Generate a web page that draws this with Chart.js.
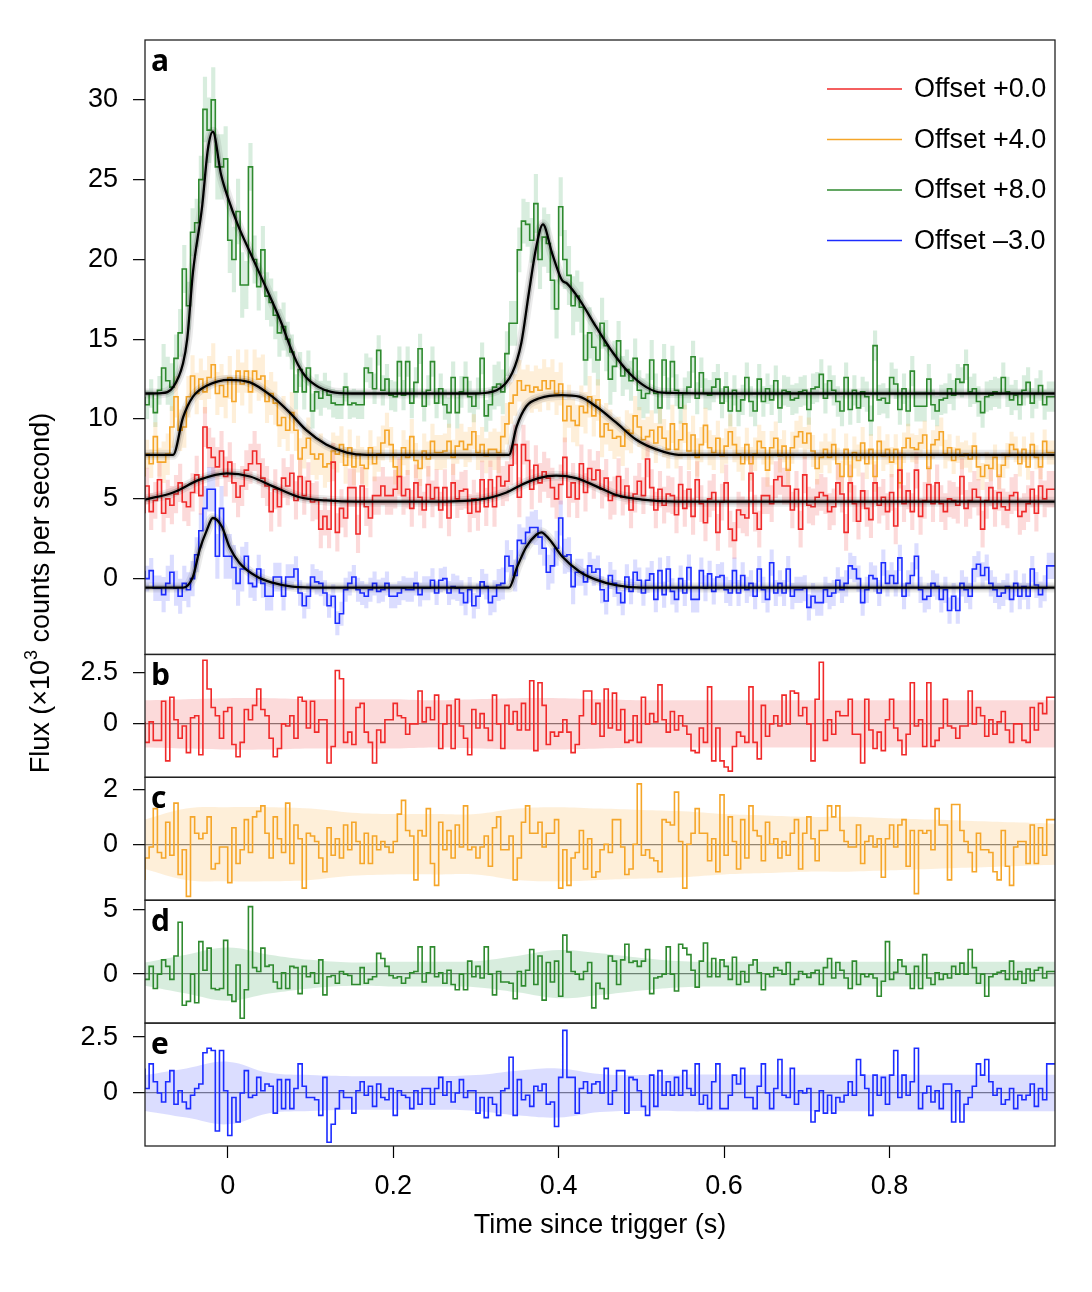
<!DOCTYPE html>
<html>
<head>
<meta charset="utf-8">
<script src="https://cdn.jsdelivr.net/npm/chart.js@4.4.1/dist/chart.umd.min.js"></script>
<style>
html,body{margin:0;padding:0;background:#fff;}
canvas{display:block;}
</style>
</head>
<body>
<canvas id="c" width="1092" height="1292" style="width:1092px;height:1292px"></canvas>
<script>
// ---------------- DATA ----------------
const BIN_START = -0.1;   // s, left edge of first bin
const BIN_WIDTH = 0.005;  // s
const X_TICKS = [0, 0.2, 0.4, 0.6, 0.8];
const TICKS_A = [0, 5, 10, 15, 20, 25, 30];
const TICKS_B = [0, 2.5];
const TICKS_C = [0, 2];
const TICKS_D = [0, 5];
const TICKS_E = [0, 2.5];
const LEGEND_LABELS = ['Offset +0.0', 'Offset +4.0', 'Offset +8.0', 'Offset \u20133.0'];
const PANEL_LETTERS = ['a', 'b', 'c', 'd', 'e'];
const X_TITLE = 'Time since trigger (s)';
const Y_TITLE = ['Flux (\u00d710', '3', ' counts per second)'];

// Panel a: binned flux (with offsets applied)
const RED_FLUX = [
4.1,5.8,4.2,4.9,6.2,4.1,5.0,4.6,5.3,6.0,
4.8,4.5,5.4,6.5,5.2,9.5,8.2,7.6,7.0,8.0,
6.4,7.3,6.0,5.1,5.8,6.8,7.2,8.0,7.2,6.3,
5.8,4.2,5.6,4.5,6.3,5.8,6.6,4.9,6.4,5.2,
6.1,4.8,4.9,3.1,3.9,3.1,7.3,2.9,4.4,3.8,
5.7,5.7,2.8,5.8,4.5,3.8,5.2,5.2,5.8,5.2,
5.2,5.6,6.4,5.2,5.6,4.4,6.0,5.1,4.3,5.9,
5.0,5.7,4.3,5.7,3.8,6.0,5.0,5.5,5.6,4.1,
5.0,4.2,6.2,4.5,6.2,4.5,6.4,5.8,6.1,7.1,
8.4,5.1,8.4,7.4,5.6,7.1,6.0,6.7,6.3,5.7,
5.0,5.9,7.6,5.1,6.0,5.0,7.2,5.4,6.9,6.2,
6.8,5.6,6.3,4.9,5.2,6.4,5.1,5.8,4.3,5.3,
6.1,5.2,7.5,5.7,4.3,5.6,4.6,5.3,5.2,4.0,
5.9,4.4,5.6,3.9,6.2,4.7,3.5,5.0,5.4,2.9,
4.8,6.0,3.1,2.4,4.3,4.0,3.8,6.6,4.1,3.1,
5.2,5.2,4.7,6.2,6.4,5.8,5.8,4.3,5.6,3.1,
6.5,4.6,4.5,5.1,5.4,5.2,4.2,4.5,6.0,5.3,
2.9,6.0,4.7,3.6,5.5,4.4,3.7,6.0,4.6,5.1,
4.2,5.4,3.3,6.8,4.7,5.5,4.2,6.8,3.9,4.9,
5.9,4.7,6.0,4.7,4.2,5.0,4.9,4.6,6.4,4.4,
4.9,5.6,5.1,3.1,4.9,5.7,4.4,5.4,4.5,4.3,
5.2,5.4,3.9,4.2,4.7,5.6,4.1,5.8,5.0,5.6];

const ORANGE_FLUX = [
6.4,7.8,7.2,8.9,7.3,7.3,7.8,9.5,11.4,9.3,
9.5,11.4,12.7,11.6,12.5,11.7,12.6,13.4,11.6,12.1,
11.4,12.6,11.1,13.0,12.2,13.0,11.7,13.0,12.5,12.7,
11.1,11.6,11.0,9.6,10.1,9.3,10.4,9.3,7.5,8.2,
8.8,7.8,7.5,7.8,7.0,7.2,8.0,7.8,8.4,7.1,
8.2,7.0,7.8,7.1,6.9,8.2,7.2,7.8,8.5,9.3,
8.4,7.0,6.4,8.2,7.6,8.9,7.4,6.9,8.0,7.5,
8.6,7.9,7.9,8.0,8.6,7.6,8.3,8.6,8.1,8.4,
9.2,7.9,8.4,7.7,8.1,8.1,7.9,8.9,9.7,11.0,
11.5,12.4,11.8,12.1,11.7,12.0,11.8,12.4,11.9,12.4,
11.6,12.2,9.9,10.8,9.9,9.6,10.8,10.4,11.4,10.2,
11.2,8.9,9.7,9.3,8.8,8.9,8.3,9.3,9.1,10.2,
9.5,8.7,8.9,9.3,8.5,9.5,8.8,8.1,9.7,8.1,
8.7,9.7,8.0,9.0,7.6,8.4,9.6,8.2,7.9,8.8,
7.7,8.3,9.2,8.4,7.8,7.2,8.4,7.2,7.8,8.6,
8.2,6.8,8.2,8.8,7.7,8.3,6.8,8.2,8.9,9.2,
8.5,9.1,8.0,6.9,7.6,8.1,7.6,8.4,7.2,6.4,
8.1,6.4,7.9,7.4,8.5,7.2,8.1,6.4,8.6,7.7,
8.1,7.3,8.1,6.0,8.2,8.8,8.2,8.1,8.5,9.0,
6.9,8.4,8.7,9.2,7.8,8.2,7.4,8.1,7.7,7.8,
7.5,8.3,7.0,6.4,7.1,6.9,7.6,6.4,7.1,7.7,
8.4,8.1,7.2,8.1,7.0,8.4,7.6,7.0,8.6,7.9];

const GREEN_FLUX = [
11.4,10.9,11.6,10.4,11.8,13.2,12.4,12.0,13.8,15.4,
19.4,17.1,21.7,22.3,25.0,29.4,28.1,30.0,25.8,25.8,
26.3,21.2,20.0,23.0,18.4,18.4,25.8,20.0,18.3,20.6,
17.7,17.3,16.5,15.4,15.8,15.0,14.2,11.7,13.1,11.7,
13.2,10.5,11.7,11.3,11.8,11.5,11.0,10.9,10.9,12.0,
10.9,11.0,10.9,10.9,13.2,12.9,11.9,14.3,11.8,12.5,
11.5,11.4,13.6,11.5,13.6,11.0,12.3,14.4,10.8,11.8,
13.6,11.0,11.9,10.9,10.4,12.6,10.4,11.7,12.6,11.4,
10.8,11.6,13.8,10.2,10.9,12.0,12.2,11.7,14.1,16.0,
16.0,20.6,22.4,22.2,21.2,23.5,20.0,21.4,21.0,18.7,
16.9,23.3,20.0,19.0,17.1,17.7,17.0,13.7,15.4,14.5,
13.7,16.0,14.6,12.5,13.3,14.9,12.7,13.1,12.4,13.8,
11.8,11.3,11.6,13.7,11.6,10.7,13.7,11.6,13.6,11.8,
10.7,11.6,12.0,13.9,11.3,12.9,11.6,11.5,12.0,12.5,
11.0,12.0,10.5,11.8,10.5,11.2,12.6,11.1,10.5,12.5,
11.1,11.9,11.2,12.4,10.7,11.8,11.7,11.2,11.3,11.7,
11.8,10.6,11.9,12.0,12.8,11.3,12.4,11.8,11.1,10.5,
12.6,10.6,11.8,10.7,11.7,11.4,9.9,14.6,11.2,11.3,
11.0,12.6,12.2,10.6,11.9,10.5,13.0,10.8,10.8,10.8,
12.5,10.9,10.5,11.2,11.3,11.9,11.5,12.5,12.3,13.4,
11.7,11.9,11.1,10.4,11.4,11.5,11.7,11.6,12.6,11.7,
11.2,11.5,10.9,11.8,12.3,11.0,11.6,12.1,10.9,11.4];

const BLUE_FLUX = [
0.5,0.0,0.5,-0.6,-0.6,-1.0,-0.3,0.4,-0.6,-1.1,
-0.3,-0.7,0.0,1.5,3.0,4.4,5.6,5.6,1.4,4.4,
1.4,1.4,0.7,-0.3,0.6,1.4,-0.3,-0.5,0.6,-0.3,
-1.1,-1.1,0.1,0.1,-1.1,0.1,0.1,0.6,-0.9,-1.7,
-1.1,0.1,-0.2,-0.3,-0.9,-1.7,-1.1,-2.8,-2.2,-0.7,
-0.3,0.1,-0.7,-0.9,-1.1,-0.7,-0.3,-0.8,-0.7,-0.3,
-1.1,-1.1,-0.9,-0.6,-0.7,-0.7,-0.3,-1.0,-0.6,-0.6,
-0.1,-0.9,-0.1,0.0,-0.9,-0.5,-0.6,-0.9,-1.5,-0.7,
-1.7,-1.1,-0.2,-0.5,-1.5,-1.1,-0.4,-0.3,1.4,0.8,
0.2,2.4,2.2,2.9,3.2,3.2,2.6,1.9,0.4,0.8,
1.9,3.8,1.4,1.5,-0.5,0.4,0.4,-0.2,0.8,0.4,
0.6,-0.7,-1.4,0.2,-0.3,-0.9,-1.5,0.1,-0.8,0.4,
-0.1,-0.9,-0.1,0.3,-1.3,0.5,-1.0,0.6,-0.8,-1.3,
0.0,-0.9,0.7,-1.3,-1.3,0.5,-0.6,0.3,-0.8,0.1,
0.2,-0.7,-0.9,0.5,-0.9,0.2,-0.7,-0.3,-1.1,0.6,
-0.7,-1.3,1.0,-0.9,-0.3,-0.9,0.6,-1.1,-0.7,-0.7,
-0.6,-1.8,-1.1,-1.5,-1.5,-0.7,-1.1,-0.9,-0.1,-0.7,
-0.3,0.8,0.6,0.0,-1.5,-0.7,0.2,0.0,-0.9,1.0,
-0.3,0.2,-0.3,1.3,-1.1,-0.3,0.2,1.4,-0.7,-1.3,
-1.1,-0.3,-0.5,-1.3,-0.7,-2.0,-1.1,-2.0,-0.3,-0.7,
-1.1,0.6,0.9,0.2,0.7,-0.3,-0.7,-1.1,-0.9,-0.5,
-1.3,-0.3,-1.1,-0.5,-1.1,0.6,-0.4,-1.0,-0.6,0.8];

// Panels b-e: residuals (data - model)
const RED_RESID = [
0.1,-0.9,0.1,-0.8,-0.8,1.1,-1.8,1.3,0.2,-0.7,
-0.1,-1.4,0.3,0.4,-1.5,3.1,1.7,0.8,0.4,-0.7,
0.6,0.8,-1.0,-1.6,-0.9,0.7,0.2,0.9,1.7,0.7,
0.4,-0.7,-1.6,-1.2,0.0,-0.1,0.4,-0.7,1.3,1.1,
-0.2,1.1,-0.4,0.2,0.2,-1.9,-1.1,2.6,2.2,-0.9,
-0.4,-1.0,0.8,1.0,-0.4,-0.9,-1.9,-0.3,-0.9,0.2,
0.2,1.0,0.4,0.3,-0.5,0.0,0.0,1.6,0.1,0.8,
0.2,1.4,-1.2,0.0,0.9,-1.2,1.2,-0.1,-0.7,-1.5,
0.7,-0.2,0.5,-0.2,-0.8,1.4,0.0,-1.2,0.9,0.0,
0.6,-0.3,1.0,-0.3,2.1,-1.3,2.0,0.9,-1.0,-0.4,
-0.6,-0.4,0.2,-0.4,-1.4,-1.0,0.4,1.6,1.6,0.0,
1.0,-0.6,1.7,-0.2,1.5,-0.3,0.7,-0.9,-0.8,0.4,
-0.9,1.3,0.0,0.5,0.1,1.9,0.2,-0.4,0.6,-0.3,
0.4,-0.1,-0.5,-1.3,-1.4,-0.2,-0.9,1.8,-1.8,-0.2,
-1.8,-2.1,-2.3,-1.1,-0.4,-0.6,-0.9,1.8,-0.9,-1.7,
0.9,-0.6,0.0,0.4,-0.1,1.4,0.0,1.6,1.5,0.4,
0.8,0.0,-1.8,1.2,3.0,-0.8,0.2,-0.5,0.6,0.4,
0.4,1.2,-0.5,-0.5,-1.9,1.2,-0.3,-1.2,-0.4,-1.3,
0.2,1.2,-0.2,-0.8,-1.5,-0.5,2.0,-0.1,0.2,-1.1,
2.0,-1.1,-0.8,-0.2,1.2,-0.1,-0.2,-0.7,-0.1,-0.1,
1.6,0.0,0.8,0.4,-0.6,0.2,-0.5,0.1,0.6,-0.3,
-0.9,0.0,0.0,-0.8,-0.9,0.8,-0.3,1.0,0.5,1.3];

const ORANGE_RESID = [
-1.3,-0.5,-0.1,1.3,-0.3,-0.5,0.8,-0.4,1.5,-1.1,
-0.2,-1.9,1.0,0.4,0.2,0.4,1.0,-0.9,-0.7,-0.1,
-0.1,-1.4,0.6,-0.7,-0.2,0.9,-0.3,1.0,1.2,1.4,
0.4,-0.5,1.0,0.2,-0.3,1.5,-0.7,0.7,0.2,-1.6,
0.4,0.3,0.1,-0.5,-1.0,0.6,-0.4,0.2,-0.5,0.7,
-0.2,0.8,0.1,-0.7,0.4,-0.7,0.3,-0.2,0.1,-0.1,
-0.3,0.1,1.1,1.6,0.5,0.3,-1.3,0.5,0.3,1.3,
-0.7,-1.5,0.8,-0.2,0.5,-0.5,0.7,-0.1,1.4,-0.2,
-0.1,-0.5,-0.1,0.3,-0.8,0.6,1.0,-0.2,-0.2,0.3,
-1.3,-0.5,0.8,1.4,0.4,0.4,0.8,-0.1,0.4,0.4,
0.9,-1.6,-0.2,-1.5,-0.5,-0.3,0.5,-0.9,0.2,-1.2,
-1.0,-0.2,0.0,-0.3,0.9,0.9,-0.1,-1.1,-0.9,0.0,
2.2,-0.4,-0.2,-0.5,-0.6,-1.0,0.9,0.8,0.7,1.9,
0.1,-1.6,0.0,0.4,1.3,0.4,0.4,-0.6,0.2,-1.0,
1.8,-0.4,1.0,0.1,-0.9,0.9,-0.5,1.4,0.5,0.3,
-0.6,0.8,0.0,0.2,-0.5,0.1,-0.4,0.4,0.9,-0.9,
0.4,1.0,0.2,-0.6,0.5,0.5,1.4,1.0,1.4,0.5,
0.1,-0.1,-0.1,0.7,-0.7,0.1,0.3,-0.1,0.2,-1.2,
0.2,0.7,-0.1,0.7,0.9,-0.8,0.5,-1.8,0.5,0.4,
0.5,-0.2,1.3,0.7,0.7,-1.3,1.45,1.45,0.5,0.1,
-0.3,-1.0,0.4,-0.2,-0.2,-0.3,-1.0,-1.3,0.5,-0.8,
-1.5,-0.1,0.1,0.1,-0.7,0.7,-0.7,0.6,-0.4,0.9];

const GREEN_RESID = [
-0.4,-0.4,0.6,-1.1,0.0,1.1,0.6,-0.4,1.4,4.0,
-2.4,-2.1,0.0,-2.2,2.5,0.3,2.0,-1.1,-1.2,-1.1,
2.6,-1.6,-2.1,0.7,-3.4,-1.2,5.2,0.5,0.2,2.0,
0.6,0.7,-0.6,-1.1,0.1,-1.1,0.6,0.5,-1.5,0.6,
-0.2,0.1,-0.7,1.1,-1.6,-0.2,-0.1,-0.7,0.2,0.0,
-0.1,-0.8,-0.8,0.5,-0.7,-0.4,-0.2,1.6,1.2,0.6,
-0.1,-0.3,-0.2,-0.7,-0.3,0.1,0.2,2.1,-0.6,0.1,
2.1,-0.2,0.1,-0.7,0.3,-0.8,-1.2,0.0,-1.2,1.0,
-0.2,0.6,-0.3,2.1,0.0,-1.6,0.2,-0.6,-0.6,-0.7,
-1.9,0.2,-0.9,0.3,1.9,-0.8,1.4,-2.0,0.9,-0.6,
1.0,-1.7,3.0,1.7,0.2,0.0,-0.4,0.2,0.9,-2.6,
-0.7,-1.1,-1.9,1.4,1.0,-0.8,1.1,2.3,0.9,1.0,
0.6,1.0,1.9,-1.5,-0.3,-0.2,0.0,2.1,0.0,-1.3,
2.3,2.0,1.5,0.3,-1.0,1.0,2.4,-0.2,1.2,-0.2,
1.1,0.6,-0.4,1.3,-0.8,0.2,-0.6,0.7,1.1,0.1,
-1.2,0.0,-0.2,0.5,0.3,0.0,0.9,-0.8,-0.4,0.2,
0.0,-0.25,0.1,0.3,-0.8,0.5,1.2,-0.3,0.9,0.3,
-0.3,-1.1,1.0,-0.8,0.0,-0.2,0.0,-0.3,-1.7,-0.55,
2.5,-0.4,0.15,1.1,0.6,0.0,-1.1,0.6,-1.1,1.5,
-0.3,-0.8,0.1,-0.4,0.0,-0.3,0.6,0.0,0.85,0.0,
1.9,0.5,-0.7,0.0,-1.7,-0.2,0.0,0.15,0.25,-0.4,
1.0,-0.4,0.2,-0.7,0.4,-0.5,0.3,0.5,-0.3,0.2];

const BLUE_RESID = [
1.1,0.2,1.3,0.5,0.0,-0.4,0.5,1.0,-0.5,0.1,
-0.4,-0.7,-0.1,0.2,0.4,1.8,2.0,1.9,-1.7,1.9,
0.1,-1.9,-0.2,-1.3,0.0,1.0,-0.2,-0.1,0.7,0.1,
0.4,0.3,-0.9,0.6,-0.7,0.6,-0.7,0.2,1.3,0.3,
-0.2,-0.2,-0.3,-1.0,0.7,-2.2,-1.4,-0.7,0.1,-0.2,
-0.2,-0.9,0.1,0.5,-0.1,0.3,-0.6,0.4,-0.2,-0.3,
0.2,-1.0,0.1,-0.1,-0.2,-0.7,0.1,-0.5,0.2,0.2,
-0.5,0.2,0.7,-0.1,0.5,-0.4,0.0,0.6,-0.2,0.1,
0.1,-0.9,-0.2,-1.1,-0.2,-0.5,-1.0,0.1,0.2,1.6,
-1.0,0.6,-0.3,-0.1,-0.6,0.3,0.1,0.4,-0.5,-0.4,
-1.5,0.7,2.8,0.7,0.7,-0.9,0.2,0.5,0.0,0.4,
0.5,0.0,1.1,-0.5,0.1,1.0,1.0,-0.9,0.7,0.6,
0.1,-0.6,-1.0,0.8,-0.6,1.0,-0.1,0.5,-0.1,0.7,
-0.1,1.0,0.2,-0.1,1.3,-0.5,-0.1,-0.7,0.5,1.3,
-0.7,-0.7,-0.1,0.8,0.4,1.1,-0.2,-0.2,-0.7,0.3,
1.3,0.0,-0.7,0.2,1.5,-0.1,-0.2,1.1,-0.5,0.1,
0.0,0.2,-1.3,-0.8,0.1,-0.9,-0.1,-0.9,-0.2,-0.4,
-0.1,0.5,-0.1,1.5,0.8,0.2,-1.0,0.8,-0.1,0.7,
-0.5,0.8,1.9,-0.2,0.8,-0.1,0.5,2.0,-0.7,0.0,
0.3,-0.4,0.1,-0.7,0.4,0.4,-1.3,0.1,-1.3,-0.5,
-0.2,0.3,1.3,0.8,1.5,0.5,-0.1,0.2,-0.5,-0.3,
0.2,-0.7,-0.1,-0.3,-0.1,0.4,-0.6,0.2,-0.3,1.3];

// Model curves (with offsets applied)
const RED_MODEL_T = [-0.1,-0.066,-0.034,-0.001,0.027,0.054,0.087,0.119,0.156,0.244,0.304,0.337,0.356,0.376,0.397,0.421,0.445,0.469,0.501,0.542,1.0];
const RED_MODEL_V = [4.95,5.4,6.2,6.6,6.4,5.8,5.1,4.9,4.82,4.82,4.95,5.4,5.9,6.3,6.45,6.3,5.8,5.25,4.95,4.82,4.82];
const ORANGE_MODEL_T = [-0.1,-0.066,-0.054,-0.042,-0.025,0.002,0.027,0.054,0.075,0.095,0.119,0.144,0.168,0.34,0.349,0.361,0.377,0.404,0.425,0.445,0.469,0.494,0.518,0.545,1.0];
const ORANGE_MODEL_V = [7.76,7.76,10.1,11.4,12.1,12.46,12.3,11.4,10.4,9.3,8.4,7.9,7.76,7.76,9.5,10.8,11.3,11.5,11.4,10.8,9.8,8.7,8.1,7.76,7.76];
const GREEN_MODEL_T = [-0.1,-0.08,-0.066,-0.054,-0.049,-0.042,-0.031,-0.024,-0.018,-0.008,0.0,0.012,0.03,0.05,0.065,0.075,0.085,0.095,0.11,0.125,0.15,0.3,0.325,0.344,0.355,0.364,0.373,0.381,0.392,0.404,0.41,0.425,0.445,0.465,0.485,0.506,0.525,0.6,1.0];
const GREEN_MODEL_V = [11.6,11.62,12.0,13.5,15.0,19.2,23.3,26.9,28.0,25.3,23.9,22.2,20.1,17.8,16.0,14.6,13.4,12.6,12.0,11.7,11.6,11.6,11.8,12.9,14.8,17.9,20.8,22.2,20.4,18.7,18.5,17.5,15.8,14.2,12.9,12.0,11.65,11.6,11.6];
const BLUE_MODEL_T = [-0.1,-0.054,-0.042,-0.034,-0.025,-0.018,-0.007,0.002,0.014,0.035,0.054,0.078,0.115,0.34,0.35,0.361,0.373,0.379,0.389,0.404,0.425,0.445,0.469,0.501,1.0];
const BLUE_MODEL_V = [-0.56,-0.56,0.13,1.8,3.07,3.8,3.25,2.0,1.0,0.13,-0.25,-0.5,-0.56,-0.56,0.75,2.0,2.75,2.9,2.45,1.4,0.45,-0.06,-0.4,-0.56,-0.56];

// 1-sigma uncertainty (half-width of the shaded bands)
const SIG_T = [-0.1,-0.05,0,0.05,0.1,0.15,0.2,0.25,0.3,0.35,0.4,0.45,0.5,0.55,0.6,0.65,0.7,0.75,0.8,0.85,0.9,0.95,1.0];
const RED_SIG = [1.15,1.2,1.25,1.25,1.2,1.2,1.2,1.15,1.2,1.25,1.25,1.2,1.15,1.15,1.15,1.15,1.15,1.15,1.15,1.15,1.15,1.15,1.15];
const ORANGE_SIG = [0.9,1.3,1.35,1.35,1.3,1.15,1.1,1.1,1.1,1.3,1.35,1.3,1.25,1.2,1.1,1.05,1.0,1.0,0.95,0.9,0.85,0.8,0.75];
const GREEN_SIG = [0.9,1.5,2.05,1.5,1.1,0.9,0.95,0.95,1.0,1.4,1.85,1.6,1.25,1.0,0.95,0.95,0.95,0.95,0.95,0.95,0.95,0.95,0.95];
const BLUE_SIG = [0.8,1.1,1.4,0.9,0.8,0.75,0.75,0.75,0.8,1.0,1.1,0.85,0.8,0.82,0.82,0.82,0.82,0.82,0.82,0.82,0.82,0.82,0.82];

// ---------------- STYLE ----------------
const COLORS = ['#f02a2a', '#f5a62a', '#2f8a2f', '#1c2cff'];
const BANDS = ['rgba(240,70,70,0.20)', 'rgba(250,180,80,0.22)', 'rgba(70,170,100,0.21)', 'rgba(90,100,255,0.22)'];
const FONT = '"Liberation Sans", Arial, Helvetica, sans-serif';
const FONT_SIZE = 27;

const SERIES = [
  {flux: RED_FLUX, resid: RED_RESID, sig: RED_SIG, mt: RED_MODEL_T, mv: RED_MODEL_V, axis: 'yb'},
  {flux: ORANGE_FLUX, resid: ORANGE_RESID, sig: ORANGE_SIG, mt: ORANGE_MODEL_T, mv: ORANGE_MODEL_V, axis: 'yc'},
  {flux: GREEN_FLUX, resid: GREEN_RESID, sig: GREEN_SIG, mt: GREEN_MODEL_T, mv: GREEN_MODEL_V, axis: 'yd'},
  {flux: BLUE_FLUX, resid: BLUE_RESID, sig: BLUE_SIG, mt: BLUE_MODEL_T, mv: BLUE_MODEL_V, axis: 'ye'}
];

function nearestSig(sig, t) {
  let best = 0, bd = Infinity;
  SIG_T.forEach((s, k) => { const d = Math.abs(s - t); if (d < bd) { bd = d; best = k; } });
  return sig[best];
}
function stepPts(vals, f) {
  const pts = vals.map((v, i) => ({x: BIN_START + i * BIN_WIDTH, y: f ? f(v, i) : v}));
  pts.push({x: BIN_START + vals.length * BIN_WIDTH, y: pts[pts.length - 1].y});
  return pts;
}
const NONE = 'rgba(0,0,0,0)';
const datasets = [];
SERIES.forEach((s, k) => {
  const sb = s.flux.map((v, i) => nearestSig(s.sig, BIN_START + (i + 0.5) * BIN_WIDTH));
  // error boxes in panel a
  datasets.push({data: stepPts(s.flux, (v, i) => v + sb[i]), yAxisID: 'ya', stepped: 'after',
    borderColor: NONE, borderWidth: 0, pointRadius: 0, fill: false, order: 50});
  datasets.push({data: stepPts(s.flux, (v, i) => v - sb[i]), yAxisID: 'ya', stepped: 'after',
    borderColor: NONE, borderWidth: 0, pointRadius: 0, fill: '-1', backgroundColor: BANDS[k], order: 50});
  // binned light curve
  datasets.push({label: LEGEND_LABELS[k], data: stepPts(s.flux), yAxisID: 'ya', stepped: 'after',
    borderColor: COLORS[k], borderWidth: 1.6, pointRadius: 0, fill: false, order: 20});
  // model: halo + line
  const mp = s.mt.map((t, i) => ({x: t, y: s.mv[i]}));
  [['rgba(0,0,0,0.08)', 10, 13], ['rgba(0,0,0,0.18)', 5.5, 12], ['#000', 2.3, 11]].forEach(([c, w, o]) => {
    datasets.push({data: mp, yAxisID: 'ya', borderColor: c, borderWidth: w, cubicInterpolationMode: 'monotone',
      pointRadius: 0, fill: false, order: o});
  });
  // residual band
  datasets.push({data: SIG_T.map((t, j) => ({x: t, y: s.sig[j]})), yAxisID: s.axis, borderColor: NONE,
    borderWidth: 0, tension: 0.4, pointRadius: 0, fill: false, order: 50});
  datasets.push({data: SIG_T.map((t, j) => ({x: t, y: -s.sig[j]})), yAxisID: s.axis, borderColor: NONE,
    borderWidth: 0, tension: 0.4, pointRadius: 0, fill: '-1', backgroundColor: BANDS[k], order: 50});
  // residuals
  datasets.push({data: stepPts(s.resid), yAxisID: s.axis, stepped: 'after', borderColor: COLORS[k],
    borderWidth: 1.6, pointRadius: 0, fill: false, order: 20});
});

const TICK_FONT = {family: FONT, size: FONT_SIZE};
const ZERO_COLOR = 'rgba(105,105,105,0.9)';
function yScale(min, max, ticksArr, sw, w, zeroLine) {
  return {
    type: 'linear', position: 'left', stack: 'panels', stackWeight: sw, weight: w,
    min: min, max: max,
    afterBuildTicks: s => { s.ticks = ticksArr.map(v => ({value: v})); },
    afterFit: s => { s.width = 145; },
    ticks: {font: TICK_FONT, color: '#000', padding: 15, autoSkip: false, callback: v => String(v)},
    grid: {drawOnChartArea: zeroLine, drawTicks: true, tickLength: 12, tickColor: '#000', tickWidth: 1.2,
      lineWidth: 1.3, color: c => (zeroLine && c.tick && c.tick.value === 0) ? ZERO_COLOR : NONE},
    border: {display: false}
  };
}

const decor = {
  id: 'decor',
  afterDatasetsDraw(chart) {
    const {ctx, chartArea} = chart;
    const L = chartArea.left, R = chartArea.right;
    ctx.save();
    ['ya', 'yb', 'yc', 'yd', 'ye'].forEach((id, k) => {
      const s = chart.scales[id];
      ctx.strokeStyle = '#222';
      ctx.lineWidth = 1.3;
      ctx.strokeRect(L, s.top, R - L, s.bottom - s.top);
      ctx.fillStyle = '#000';
      ctx.font = 'bold 30px "Open Sans", "DejaVu Sans", sans-serif';
      ctx.textAlign = 'left';
      ctx.textBaseline = 'alphabetic';
      ctx.fillText(PANEL_LETTERS[k], L + 6, s.top + 31);
    });
    // legend
    ctx.font = FONT_SIZE + 'px ' + FONT;
    ctx.textBaseline = 'middle';
    LEGEND_LABELS.forEach((lab, k) => {
      const y = chartArea.top + 49 + k * 50.5;
      ctx.strokeStyle = COLORS[k];
      ctx.lineWidth = 1.6;
      ctx.beginPath(); ctx.moveTo(R - 228, y); ctx.lineTo(R - 153, y); ctx.stroke();
      ctx.fillStyle = '#000';
      ctx.fillText(lab, R - 141, y + 1);
    });
    ctx.restore();
    // y title
    ctx.save();
    ctx.translate(42, (chartArea.top + chartArea.bottom) / 2);
    ctx.rotate(-Math.PI / 2);
    ctx.fillStyle = '#000';
    ctx.textBaseline = 'middle';
    ctx.textAlign = 'left';
    const f1 = FONT_SIZE + 'px ' + FONT, f2 = '18px ' + FONT;
    ctx.font = f1;
    const w1 = ctx.measureText(Y_TITLE[0]).width, w3 = ctx.measureText(Y_TITLE[2]).width;
    ctx.font = f2;
    const w2 = ctx.measureText(Y_TITLE[1]).width;
    const x0 = -(w1 + w2 + w3) / 2;
    ctx.font = f1; ctx.fillText(Y_TITLE[0], x0, 0);
    ctx.font = f2; ctx.fillText(Y_TITLE[1], x0 + w1, -10);
    ctx.font = f1; ctx.fillText(Y_TITLE[2], x0 + w1 + w2, 0);
    ctx.restore();
  }
};

new Chart(document.getElementById('c'), {
  type: 'line',
  data: {datasets: datasets},
  options: {
    responsive: false,
    animation: false,
    devicePixelRatio: 1,
    layout: {padding: {top: 40, right: 37, left: 0, bottom: 0}},
    plugins: {legend: {display: false}, tooltip: {enabled: false}},
    scales: {
      x: {
        type: 'linear', position: 'bottom', min: BIN_START, max: 1.0,
        afterBuildTicks: s => { s.ticks = X_TICKS.map(v => ({value: v})); },
        afterFit: s => { s.height = 146; },
        ticks: {font: TICK_FONT, color: '#000', padding: 12, autoSkip: false, maxRotation: 0, callback: v => String(v)},
        grid: {drawOnChartArea: false, drawTicks: true, tickLength: 12, tickColor: '#000', tickWidth: 1.2},
        border: {display: false},
        title: {display: true, text: X_TITLE, font: {family: FONT, size: FONT_SIZE}, color: '#000', padding: {top: 0, bottom: 50}}
      },
      ya: yScale(-4.75, 33.75, TICKS_A, 5, 5, false),
      yb: yScale(-2.6, 3.38, TICKS_B, 1, 4, true),
      yc: yScale(-2.04, 2.44, TICKS_C, 1, 3, true),
      yd: yScale(-3.77, 5.69, TICKS_D, 1, 2, true),
      ye: yScale(-2.37, 3.125, TICKS_E, 1, 1, true)
    }
  },
  plugins: [decor]
});
</script>
</body>
</html>
